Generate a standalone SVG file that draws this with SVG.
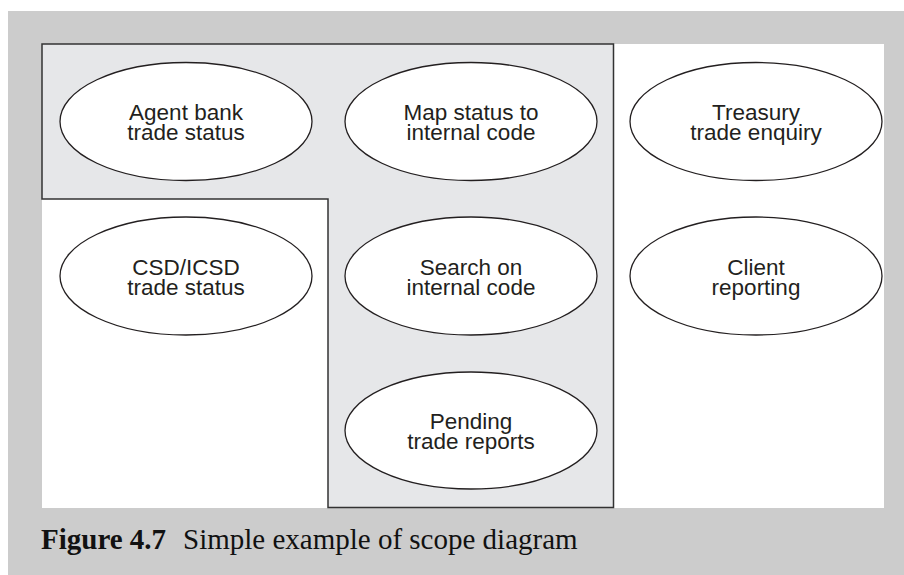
<svg xmlns="http://www.w3.org/2000/svg" width="904" height="575" viewBox="0 0 904 575">
  <defs>
    <style>
      .node ellipse { fill: #ffffff; stroke: #231f20; stroke-width: 1.3; }
      .node text { font-family: "Liberation Sans", Arial, sans-serif; font-size: 22.5px; fill: #231f20; text-anchor: middle; }
      .caption { font-family: "Liberation Serif", "Times New Roman", serif; font-size: 29px; fill: #111111; }
    </style>
  </defs>

  <!-- page background and figure panel -->
  <rect x="0" y="0" width="904" height="575" fill="#ffffff"/>
  <rect x="8" y="11" width="896" height="564" fill="#cccccc"/>
  <rect x="42" y="44" width="842" height="464" fill="#ffffff"/>

  <!-- system scope boundary -->
  <g id="scope">
    <path d="M42,44 H613.5 V507.5 H328 V199 H42 Z" fill="#e6e7e9" stroke="#333333" stroke-width="1.5"/>
  </g>

  <!-- no connectors in this diagram -->
  <g id="connectors"></g>

  <g id="agent-bank" class="node">
    <ellipse cx="186" cy="121.5" rx="126" ry="59"/>
    <text x="186" y="120"><tspan x="186">Agent bank</tspan><tspan x="186" dy="20">trade status</tspan></text>
  </g>

  <g id="map-status" class="node">
    <ellipse cx="471" cy="121.5" rx="126" ry="59"/>
    <text x="471" y="120"><tspan x="471">Map status to</tspan><tspan x="471" dy="20">internal code</tspan></text>
  </g>

  <g id="treasury" class="node">
    <ellipse cx="756" cy="121.5" rx="126" ry="59"/>
    <text x="756" y="120"><tspan x="756">Treasury</tspan><tspan x="756" dy="20">trade enquiry</tspan></text>
  </g>

  <g id="csd-icsd" class="node">
    <ellipse cx="186" cy="276" rx="126" ry="59"/>
    <text x="186" y="274.5"><tspan x="186">CSD/ICSD</tspan><tspan x="186" dy="20">trade status</tspan></text>
  </g>

  <g id="search" class="node">
    <ellipse cx="471" cy="276" rx="126" ry="59"/>
    <text x="471" y="274.5"><tspan x="471">Search on</tspan><tspan x="471" dy="20">internal code</tspan></text>
  </g>

  <g id="client" class="node">
    <ellipse cx="756" cy="276" rx="126" ry="59"/>
    <text x="756" y="274.5"><tspan x="756">Client</tspan><tspan x="756" dy="20">reporting</tspan></text>
  </g>

  <g id="pending" class="node">
    <ellipse cx="471" cy="430.5" rx="126" ry="58.5"/>
    <text x="471" y="429"><tspan x="471">Pending</tspan><tspan x="471" dy="20">trade reports</tspan></text>
  </g>

  <!-- figure caption -->
  <text class="caption" x="41" y="549" font-weight="bold">Figure 4.7</text>
  <text class="caption" x="183" y="549">Simple example of scope diagram</text>
</svg>
